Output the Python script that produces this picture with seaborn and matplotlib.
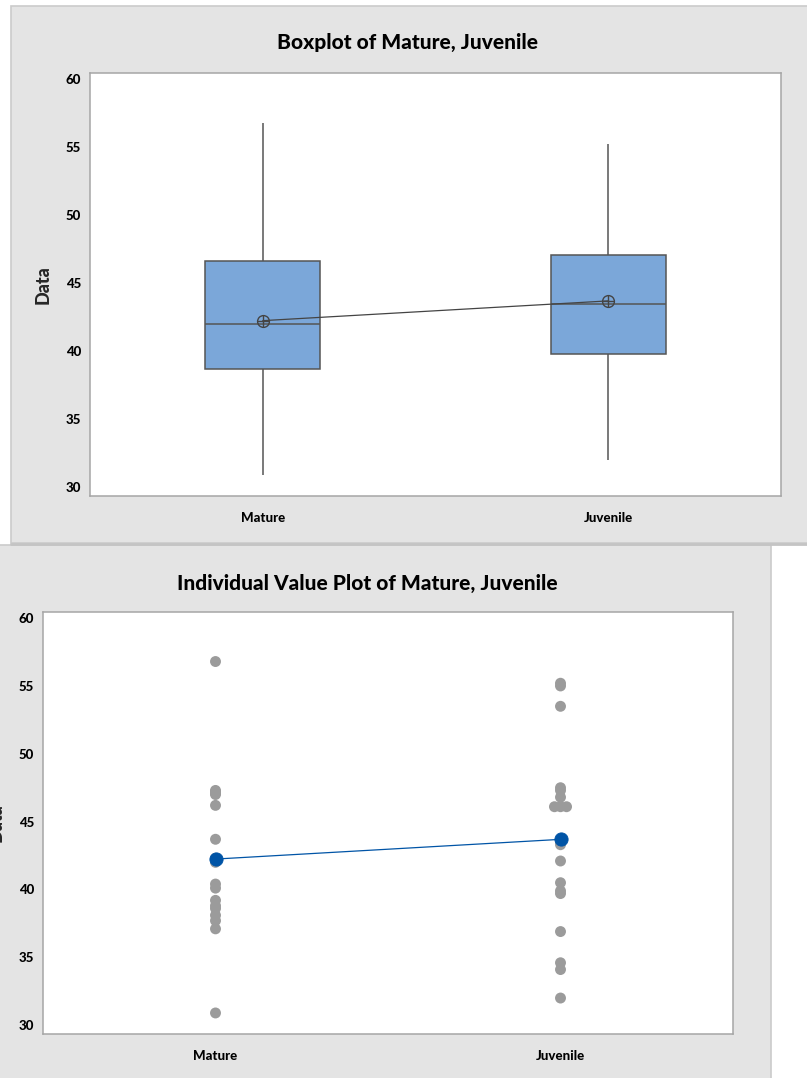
import numpy as np
import pandas as pd
import matplotlib
matplotlib.use("Agg")
import matplotlib.pyplot as plt
from matplotlib.patches import Rectangle
from matplotlib.lines import Line2D
import seaborn as sns

# Sample values for the two groups
groups = ["Mature", "Juvenile"]
mature = [30.9, 37.1, 37.7, 38.1, 38.6, 38.8, 39.2, 40.1, 40.4, 42.0,
          42.1, 42.3, 43.7, 46.2, 47.0, 47.1, 47.2, 47.3, 56.8]
juvenile = [32.0, 34.1, 34.6, 36.9, 39.7, 39.9, 40.5, 42.1, 43.3, 43.5,
            46.1, 46.1, 46.1, 46.8, 47.3, 47.5, 53.5, 55.0, 55.2]
y_ticks = [30, 35, 40, 45, 50, 55, 60]

sns.set_theme(style="white")
plt.rcParams["font.family"] = ["Lato", "DejaVu Sans"]

df = pd.DataFrame({
    "group": ["Mature"] * len(mature) + ["Juvenile"] * len(juvenile),
    "value": mature + juvenile,
})

W, H = 807, 1078
fig = plt.figure(figsize=(W / 100, H / 100), dpi=100)
fig.patch.set_facecolor("white")


def rect(x0, y0, x1, y1):
    return [x0 / W, 1 - y1 / H, (x1 - x0) / W, (y1 - y0) / H]


PANEL = "#e4e4e4"
PANEL_EDGE = "#cbcbcb"
# graph regions
fig.add_artist(Rectangle((11 / W, 1 - 543 / H), (830 - 11) / W, (543 - 6) / H,
                         transform=fig.transFigure, facecolor=PANEL,
                         edgecolor=PANEL_EDGE, lw=1.2, zorder=0))
fig.add_artist(Rectangle((-10 / W, -10 / H), (771 + 10) / W, (1078 - 545 + 10) / H,
                         transform=fig.transFigure, facecolor=PANEL,
                         edgecolor=PANEL_EDGE, lw=1.2, zorder=0))
fig.add_artist(Line2D([11 / W, 1], [1 - 543.5 / H] * 2, transform=fig.transFigure,
                      color="#c4c4c4", lw=2, zorder=1))

ax1 = fig.add_axes(rect(90, 73, 781, 496))
ax2 = fig.add_axes(rect(43, 612, 733, 1034))

SPINE = "#a6a6a6"
BOX_FILL = "#7ba7d9"
BOX_EDGE = "#555555"
MEAN_LINE = "#444444"
DOT = "#9b9b9b"
BLUE = "#0054a6"

# ---- Boxplot ----
sns.boxplot(data=df, x="group", y="value", order=groups, ax=ax1,
            width=0.334, color=BOX_FILL, linecolor=BOX_EDGE, linewidth=1.1,
            saturation=1, showcaps=False, fliersize=0)
sns.pointplot(data=df, x="group", y="value", order=groups, ax=ax1,
              estimator="mean", errorbar=None, color=MEAN_LINE,
              markers="o", markersize=8.5, markerfacecolor="none",
              markeredgewidth=1.0, linewidth=0.9, zorder=5)
sns.pointplot(data=df, x="group", y="value", order=groups, ax=ax1,
              estimator="mean", errorbar=None, color=MEAN_LINE,
              markers="+", linestyles="none", markersize=8.5,
              markeredgewidth=1.0, zorder=6)

# ---- Individual value plot ----
codes = df["group"].map({g: i for i, g in enumerate(groups)})
tie_rank = df.groupby(["group", "value"]).cumcount()
tie_count = df.groupby(["group", "value"])["value"].transform("size")
df["xpos"] = codes + (tie_rank - (tie_count - 1) / 2) * 0.0175

sns.pointplot(data=df, x="group", y="value", order=groups, ax=ax2,
              estimator="mean", errorbar=None, color=BLUE,
              markers="o", markersize=9.5, linewidth=0.9, zorder=5)
sns.scatterplot(data=df, x="xpos", y="value", ax=ax2, color=DOT, s=62,
                edgecolor="none", zorder=3, legend=False)

titles = ["Boxplot of Mature, Juvenile", "Individual Value Plot of Mature, Juvenile"]
title_xy = [(408, 42), (367, 583)]
for ax, title, (tx, ty) in zip([ax1, ax2], titles, title_xy):
    ax.set_facecolor("white")
    ax.set_xlim(-0.5, 1.5)
    ax.set_ylim(29.35, 60.45)
    ax.set_yticks(y_ticks)
    ax.set_yticklabels([str(t) for t in y_ticks])
    ax.set_xticks([0, 1])
    ax.set_xticklabels(groups)
    ax.set_xlabel("")
    ax.set_ylabel("Data", fontsize=13, fontweight="black", labelpad=10)
    for s in ax.spines.values():
        s.set_visible(True)
        s.set_color(SPINE)
        s.set_linewidth(1.1)
    ax.tick_params(axis="both", direction="out", length=3.5, width=1,
                   color=SPINE, labelsize=9.5, labelcolor="black", pad=3)
    ax.tick_params(axis="x", pad=8)
    for lab in ax.get_xticklabels() + ax.get_yticklabels():
        lab.set_fontweight("black")
    ax.grid(False)
    fig.text(tx / W, 1 - ty / H, title, ha="center", va="center",
             fontsize=15, fontweight="black", color="black")

fig.savefig("out.png", dpi=100)
